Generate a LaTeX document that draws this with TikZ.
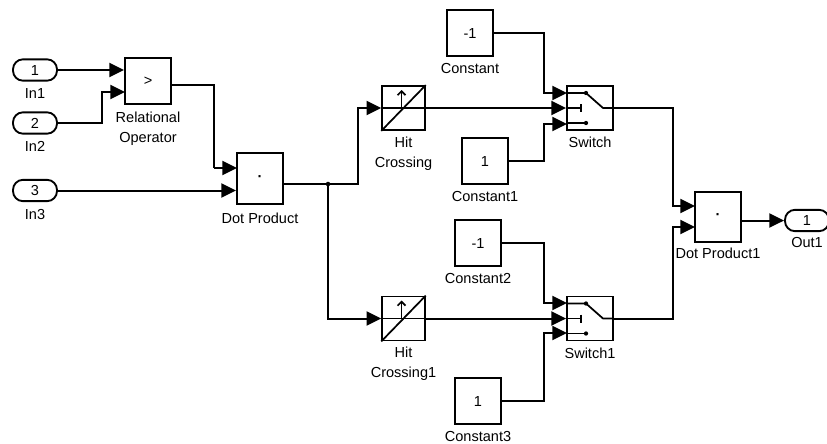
\documentclass[tikz,border=0pt]{standalone}
\usepackage{fontspec}
\setmainfont{Liberation Sans}
\usetikzlibrary{arrows.meta,positioning}

\tikzset{
  block/.style={draw,line width=1.4pt,minimum width=34.5pt,minimum height=35pt,inner sep=0pt,
    font=\fontsize{10.9}{15}\selectfont},
  port/.style={draw,line width=1.4pt,rounded corners=7.5pt,minimum width=33pt,minimum height=16pt,inner sep=0pt,
    font=\fontsize{10.9}{15}\selectfont},
  caption/.style={inner sep=0pt,align=center,font=\fontsize{10.9}{15}\selectfont},
  wire/.style={line width=1.5pt},
  feed/.style={wire,-{Triangle[length=11pt,width=10.5pt]}},
  icon/.style={line width=1.3pt}
}

\begin{document}
\begin{tikzpicture}[x=0.75pt,y=-0.75pt,>=Latex]
  \useasboundingbox (0,0) rectangle (827,443);

  % Inports
  \node[port] (in1) at (35,70) {1};
  \node[port] (in2) at (35,123) {2};
  \node[port] (in3) at (35,190.5) {3};
  \node[caption,below=5pt of in1] (in1t) {In1};
  \node[caption,below=5pt of in2] (in2t) {In2};
  \node[caption,below=5pt of in3] (in3t) {In3};

  % Logic blocks
  \node[block] (rel) at (148,81) {>};
  \node[block,minimum height=38pt] (dot) at (260,178.5) {\textbf{·}};
  \node[caption,below=5pt of rel] (relt) {Relational\\Operator};
  \node[caption,below=6pt of dot] (dott) {Dot Product};

  % Hit crossings
  \node[block,minimum width=32pt,minimum height=33pt] (hit) at (403.5,108) {};
  \node[block,minimum width=32pt,minimum height=33pt] (hitb) at (403.5,318.5) {};
  \node[caption,below=4pt of hit] (hitt) {Hit\\Crossing};
  \node[caption,below=4pt of hitb] (hitbt) {Hit\\Crossing1};

  % Constants
  \node[block] (con) at (470,33) {-1};
  \node[block] (conb) at (485,161) {1};
  \node[block] (conc) at (478,243) {-1};
  \node[block] (cond) at (478,401) {1};
  \node[caption,below=4pt of con] (cont) {Constant};
  \node[caption,below=4pt of conb] (conbt) {Constant1};
  \node[caption,below=4pt of conc] (conct) {Constant2};
  \node[caption,below=4pt of cond] (condt) {Constant3};

  % Switches
  \node[block,minimum height=33pt] (sw) at (590,108) {};
  \node[block,minimum height=33pt] (swb) at (590,318.5) {};
  \node[caption,below=4pt of sw] (swt) {Switch};
  \node[caption,below=4.5pt of swb] (swbt) {Switch1};

  % Output side
  \node[block,minimum height=37pt] (dotb) at (718,217) {\textbf{·}};
  \node[caption,below=4pt of dotb] (dotbt) {Dot Product1};
  \node[port] (out) at (807,220.5) {1};
  \node[caption,below=4pt of out] (outt) {Out1};

  % Block icons
  \foreach \h in {hit,hitb} {
    \begin{scope}[shift={(\h.center)}]
      \draw[icon] (\h.south west) -- (\h.north east);
      \draw[icon] (\h.west) -- (\h.east);
      \draw[icon,-{Straight Barb[length=3pt,width=6pt]}] (-2,0) -- (-2,-18);
    \end{scope}
  }
  \foreach \s in {sw,swb} {
    \begin{scope}[shift={(\s.center)}]
      \draw[icon] (-23,-15) -- (-4,-15) -- (13,0) -- (23,0);
      \draw[icon] (-23,0) -- (-9,0);
      \draw[icon] (-9,-4) -- (-9,4);
      \draw[icon] (-23,15) -- (-4,15);
      \fill (-4,-15) circle (1.6pt);
      \fill (-4,15) circle (1.6pt);
    \end{scope}
  }

  % Ports on the blocks
  \coordinate (relb) at (125,92);
  \coordinate (relo) at (171,85);
  \coordinate (dota) at (237,168);
  \coordinate (doto) at (283,184);
  \coordinate (jn) at (328,184);
  \coordinate (swa) at (567,93);
  \coordinate (swc) at (567,124);
  \coordinate (swba) at (567,303);
  \coordinate (swbc) at (567,333);
  \coordinate (dotba) at (695,206);
  \coordinate (dotbb) at (695,227);

  % Left part
  \draw[feed] (in1) -- (in1-|rel.west);
  \draw[feed] (in2) -| (102,92) -- (relb);
  \draw[wire,-] (relo) -| (214,168);
  \draw[feed] (214,168) -- (dota);
  \draw[feed] (in3) -- (in3-|dot.west);

  % Branches to the hit crossings
  \draw[wire] (doto) -- (jn);
  \draw[feed] (jn) -| (358,108) -- (hit);
  \draw[feed] (jn) |- (hitb);
  \fill (jn) circle (1.7pt);

  % Into the switches
  \draw[feed] (hit) -- (sw);
  \draw[feed] (hitb) -- (swb);
  \draw[feed] (con) -| (544,93) -- (swa);
  \draw[feed] (conb) -| (544,124) -- (swc);
  \draw[feed] (conc) -| (544,303) -- (swba);
  \draw[feed] (cond) -| (544,333) -- (swbc);

  % Output part
  \draw[feed] (sw) -| (673,206) -- (dotba);
  \draw[feed] (swb) -| (673,227) -- (dotbb);
  \draw[feed] (dotb.east|-out) -- (out);
\end{tikzpicture}
\end{document}
